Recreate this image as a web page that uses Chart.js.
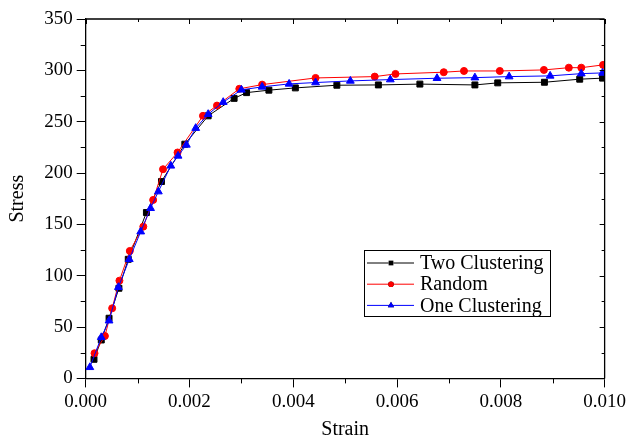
<!DOCTYPE html>
<html>
<head>
    <title>Stress - Strain</title>
    <script src="https://cdn.jsdelivr.net/npm/chart.js"></script>
    <style>
        html, body { margin: 0; padding: 0; background: #fff; }
        .chart-box { width: 629px; height: 440px; position: relative; }
    </style>
</head>
<body>
    <div class="chart-box">
        <canvas id="ssChart"></canvas>
    </div>

    <script>
        // data (strain, stress)
        const twoStrain = [0.00016, 0.00030, 0.00045, 0.00064, 0.00082, 0.00117, 0.00146, 0.00191, 0.00236, 0.00286,
                           0.00310, 0.00353, 0.00404, 0.00484, 0.00564, 0.00644, 0.00750, 0.00794, 0.00884, 0.00952, 0.00996];
        const twoStress = [18.6, 37.4, 58.6, 87.8, 116.0, 161.5, 191.7, 228.1, 255.7, 272.7,
                           278.3, 280.7, 282.9, 285.5, 285.8, 286.6, 285.8, 287.8, 288.4, 291.4, 292.4];

        const randStrain = [0.00017, 0.00037, 0.00051, 0.00065, 0.00085, 0.00111, 0.00130, 0.00149, 0.00177, 0.00226,
                            0.00253, 0.00296, 0.00340, 0.00443, 0.00557, 0.00597, 0.00690, 0.00729, 0.00798, 0.00883,
                            0.00931, 0.00955, 0.00997];
        const randStress = [24.5, 41.3, 68.3, 95.2, 124.1, 147.8, 173.8, 203.7, 220.0, 255.7,
                            265.7, 282.0, 286.1, 292.6, 293.9, 296.5, 298.2, 299.4, 299.4, 300.4,
                            302.6, 302.6, 305.3];

        const oneStrain = [0.00008, 0.00030, 0.00045, 0.00063, 0.00084, 0.00106, 0.00125, 0.00140, 0.00164, 0.00178,
                           0.00194, 0.00212, 0.00236, 0.00265, 0.00300, 0.00340, 0.00392, 0.00443, 0.00510, 0.00587,
                           0.00677, 0.00750, 0.00816, 0.00895, 0.00955, 0.00996];
        const oneStress = [10.8, 40.0, 56.2, 88.8, 116.0, 142.9, 165.7, 181.9, 207.0, 216.7,
                           227.4, 243.7, 257.3, 269.0, 281.0, 283.9, 286.8, 288.1, 289.7, 291.0,
                           292.3, 292.9, 293.9, 294.6, 296.8, 297.5];

        const seriesNames = ['Two Clustering', 'Random', 'One Clustering'];
        const xTicks = [0, 0.002, 0.004, 0.006, 0.008, 0.010];
        const yTicks = [0, 50, 100, 150, 200, 250, 300, 350];

        const serif = "'Liberation Serif', 'DejaVu Serif', serif";

        function toPoints(xs, ys) {
            return xs.map((x, i) => ({ x: x, y: ys[i] }));
        }

        // 次刻度 + 上/右邊框
        const frameTicks = {
            id: 'frameTicks',
            afterDraw(chart) {
                const c = chart.ctx;
                const a = chart.chartArea;
                const xs = chart.scales.x, ys = chart.scales.y;
                c.save();
                c.strokeStyle = '#000';
                c.lineWidth = 1.3;
                c.beginPath();
                c.moveTo(a.left, a.top); c.lineTo(a.right, a.top);
                c.moveTo(a.right, a.top); c.lineTo(a.right, a.bottom);
                c.stroke();
                c.lineWidth = 1;
                c.beginPath();
                // bottom / top
                for (let i = 0; i < xTicks.length; i++) {
                    const px = Math.round(xs.getPixelForValue(xTicks[i])) + 0.5;
                    c.moveTo(px, a.top); c.lineTo(px, a.top + 5);
                    if (i < xTicks.length - 1) {
                        const mx = Math.round(xs.getPixelForValue((xTicks[i] + xTicks[i + 1]) / 2)) + 0.5;
                        c.moveTo(mx, a.bottom); c.lineTo(mx, a.bottom + 5);
                        c.moveTo(mx, a.top); c.lineTo(mx, a.top + 3);
                    }
                }
                // left / right
                for (let i = 0; i < yTicks.length; i++) {
                    const py = Math.round(ys.getPixelForValue(yTicks[i])) + 0.5;
                    c.moveTo(a.right, py); c.lineTo(a.right - 5, py);
                    if (i < yTicks.length - 1) {
                        const my = Math.round(ys.getPixelForValue((yTicks[i] + yTicks[i + 1]) / 2)) + 0.5;
                        c.moveTo(a.left, my); c.lineTo(a.left - 5, my);
                        c.moveTo(a.right, my); c.lineTo(a.right - 3, my);
                    }
                }
                c.stroke();
                c.restore();
            }
        };

        // 圖例：線 + 點
        const boxLegend = {
            id: 'boxLegend',
            afterDraw(chart) {
                const c = chart.ctx;
                const left = 364, top = 250, w = 186, h = 66;
                c.save();
                c.fillStyle = '#fff';
                c.fillRect(left, top, w, h);
                c.strokeStyle = '#000';
                c.lineWidth = 1;
                c.strokeRect(left + 0.5, top + 0.5, w, h);
                c.font = '20px ' + serif;
                c.textBaseline = 'middle';
                chart.data.datasets.forEach((ds, i) => {
                    const y = top + 13 + i * 21.2;
                    c.strokeStyle = ds.borderColor;
                    c.lineWidth = 1;
                    c.beginPath();
                    c.moveTo(left + 3, y); c.lineTo(left + 50, y);
                    c.stroke();
                    Chart.helpers.drawPoint(c, {
                        pointStyle: ds.pointStyle,
                        radius: ds.pointRadius * 0.8,
                        borderWidth: 0
                    }, left + 27, y);
                    c.fillStyle = ds.borderColor;
                    c.fill();
                    c.fillStyle = '#000';
                    c.fillText(ds.label, left + 56, y + 1);
                });
                c.restore();
            }
        };

        const ctx = document.getElementById('ssChart').getContext('2d');
        new Chart(ctx, {
            type: 'line',
            data: {
                datasets: [
                    {
                        label: seriesNames[0],
                        data: toPoints(twoStrain, twoStress),
                        borderColor: '#000000',
                        backgroundColor: '#000000',
                        pointStyle: 'rect',
                        pointRadius: 4.2,
                        borderWidth: 1,
                        order: 3
                    },
                    {
                        label: seriesNames[1],
                        data: toPoints(randStrain, randStress),
                        borderColor: '#ff0000',
                        backgroundColor: '#ff0000',
                        pointStyle: 'circle',
                        pointRadius: 3.5,
                        borderWidth: 1,
                        order: 2
                    },
                    {
                        label: seriesNames[2],
                        data: toPoints(oneStrain, oneStress),
                        borderColor: '#0000ff',
                        backgroundColor: '#0000ff',
                        pointStyle: 'triangle',
                        pointRadius: 4.5,
                        borderWidth: 1,
                        order: 1
                    }
                ]
            },
            options: {
                responsive: true,
                maintainAspectRatio: false,
                animation: false,
                layout: { padding: { top: 19, right: 24, left: 0, bottom: 0 } },
                elements: { point: { borderWidth: 0 }, line: { tension: 0 } },
                plugins: {
                    legend: { display: false },
                    tooltip: { enabled: false }
                },
                scales: {
                    x: {
                        type: 'linear',
                        min: 0,
                        max: 0.010,
                        afterFit: s => { s.height = 61.6; },
                        afterBuildTicks: s => { s.ticks = xTicks.map(v => ({ value: v })); },
                        ticks: {
                            callback: v => v.toFixed(3),
                            font: { family: serif, size: 19 },
                            color: '#000',
                            padding: 3,
                            maxRotation: 0
                        },
                        grid: { drawOnChartArea: false, tickLength: 9, color: '#000', tickWidth: 1 },
                        border: { color: '#000', width: 1.3 },
                        title: {
                            display: true,
                            text: 'Strain',
                            font: { family: serif, size: 20 },
                            color: '#000',
                            padding: { top: 0, bottom: -2 }
                        }
                    },
                    y: {
                        type: 'linear',
                        min: 0,
                        max: 350,
                        afterFit: s => { s.width = 85.7; },
                        afterBuildTicks: s => { s.ticks = yTicks.map(v => ({ value: v })); },
                        ticks: {
                            font: { family: serif, size: 19 },
                            color: '#000',
                            padding: 4
                        },
                        grid: { drawOnChartArea: false, tickLength: 9, color: '#000', tickWidth: 1 },
                        border: { color: '#000', width: 1.3 },
                        title: {
                            display: true,
                            text: 'Stress',
                            font: { family: serif, size: 20 },
                            color: '#000',
                            padding: { top: 6, bottom: 0 }
                        }
                    }
                }
            },
            plugins: [frameTicks, boxLegend]
        });
    </script>
</body>
</html>
